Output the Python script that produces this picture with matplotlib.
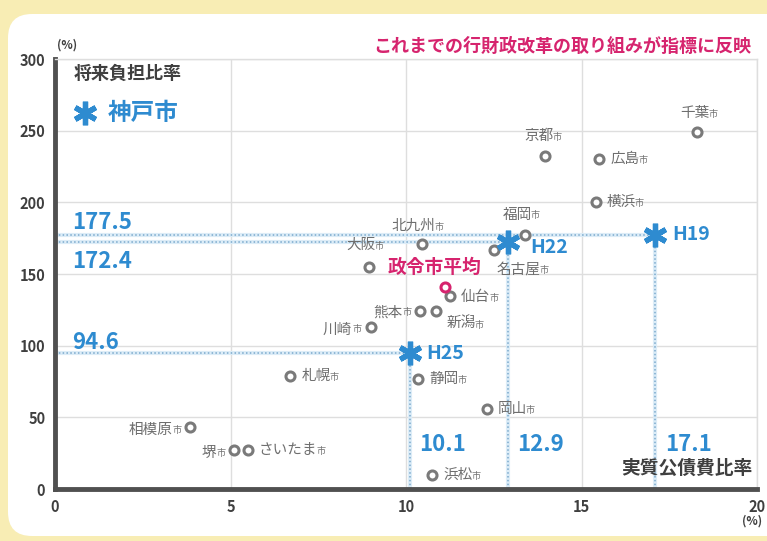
import matplotlib
matplotlib.use("Agg")
import matplotlib.pyplot as plt
from matplotlib.patches import FancyBboxPatch
from matplotlib.transforms import IdentityTransform

plt.rcParams['font.family'] = ['Noto Sans CJK JP', 'DejaVu Sans']

# 政令市 (実質公債費比率 %, 将来負担比率 %)
cities = ['千葉', '京都', '広島', '横浜', '福岡', '名古屋', '北九州', '大阪', '仙台', '熊本',
          '新潟', '川崎', '札幌', '静岡', '岡山', '相模原', '堺', 'さいたま', '浜松']
debt_ratio = [18.3, 13.95, 15.5, 15.4, 13.4, 12.5, 10.45, 8.95, 11.25, 10.4,
              10.85, 9.0, 6.7, 10.35, 12.3, 3.85, 5.1, 5.5, 10.75]
burden_ratio = [249, 232, 230, 200, 177, 167, 171, 155, 135, 124,
                124, 113, 79, 77, 56, 43, 27, 27, 10]

avg_x, avg_y = 11.1, 141

# 神戸市
kobe_years = ['H19', 'H22', 'H25']
kobe_debt = [17.1, 12.9, 10.1]
kobe_burden = [177.5, 172.4, 94.6]

blue = '#2e8bd0'
pink = '#d6246e'
gray = '#6e6e6e'
dark = '#3f3f3f'

fig = plt.figure(figsize=(7.67, 5.41), dpi=100, facecolor='#f8edb4')
panel = FancyBboxPatch((8, 5), 800, 522, boxstyle='round,pad=0,rounding_size=24',
                       transform=IdentityTransform(), facecolor='white', edgecolor='none',
                       zorder=-10)
fig.patches.append(panel)

ax = fig.add_axes([0.0717, 0.0961, 0.9153, 0.7948])
ax.set_facecolor('none')
ax.set_xlim(0, 20)
ax.set_ylim(0, 300)
ax.set_xticks([0, 5, 10, 15, 20])
ax.set_yticks([0, 50, 100, 150, 200, 250, 300])
ax.tick_params(length=0, labelsize=10.5, labelcolor=dark, pad=7)
for lab in ax.get_xticklabels() + ax.get_yticklabels():
    lab.set_fontweight('bold')
ax.grid(True, color='#dedede', lw=1)
ax.set_axisbelow(True)
for s in ['left', 'bottom']:
    ax.spines[s].set_color('#505050')
    ax.spines[s].set_linewidth(3.5)
for s in ['top', 'right']:
    ax.spines[s].set_color('#dedede')
    ax.spines[s].set_linewidth(1)

# dotted guide lines for Kobe
for kx, ky in zip(kobe_debt, kobe_burden):
    ax.plot([0, kx], [ky, ky], color='#dcecf7', lw=3, zorder=1, solid_capstyle='butt')
    ax.plot([0, kx], [ky, ky], color='#7aa9cc', lw=1.1, ls=(0, (1, 1.5)), zorder=2)
    ax.plot([kx, kx], [0, ky], color='#dcecf7', lw=3, zorder=1, solid_capstyle='butt')
    ax.plot([kx, kx], [0, ky], color='#7aa9cc', lw=1.1, ls=(0, (1, 1.5)), zorder=2)

# city markers
ax.plot(debt_ratio, burden_ratio, 'o', ms=6.5, mfc='white', mec='#7a7a7a', mew=2.2, zorder=4)
ax.plot([avg_x], [avg_y], 'o', ms=6.5, mfc='white', mec=pink, mew=2.2, zorder=5)

# label placement: (dx, dy) in points and side
place = {
    '千葉': (-2, 14, 't'), '京都': (-4, 15, 't'), '広島': (8, 0, 'r'), '横浜': (8, 0, 'r'),
    '福岡': (-6, 15, 't'), '名古屋': (18, -14, 't'), '北九州': (-6, 13, 't'),
    '大阪': (-6, 16, 't'), '仙台': (8, -1, 'r'), '熊本': (-6, 1, 'l'), '新潟': (18, -9, 't'),
    '川崎': (-7, 0, 'l'), '札幌': (8, 0, 'r'), '静岡': (8, 0, 'r'), '岡山': (8, 0, 'r'),
    '相模原': (-6, 0, 'l'), '堺': (-6, 0, 'l'), 'さいたま': (8, 0, 'r'), '浜松': (8, 0, 'r'),
}
fs = 10.5
for name, cx, cy in zip(cities, debt_ratio, burden_ratio):
    dx, dy, side = place[name]
    if side == 'l':
        shi = ax.annotate('市', (cx, cy), xytext=(dx, dy - 2), textcoords='offset points',
                          ha='right', va='center', fontsize=6.5, color=gray)
        ax.annotate(name, xy=(0, -0.25), xycoords=shi, xytext=(-0.3, 0),
                    textcoords='offset points', ha='right', va='bottom',
                    fontsize=fs, color=gray)
    else:
        ha = 'left' if side == 'r' else 'center'
        t = ax.annotate(name, (cx, cy), xytext=(dx, dy), textcoords='offset points',
                        ha=ha, va='center', fontsize=fs, color=gray)
        ax.annotate('市', xy=(1, 0.08), xycoords=t, xytext=(-0.8, 0),
                    textcoords='offset points', ha='left', va='bottom',
                    fontsize=6.5, color=gray)

ax.annotate('政令市平均', (avg_x, avg_y), xytext=(-7, 14), textcoords='offset points',
            ha='center', va='center', fontsize=13.5, fontweight='bold', color=pink, zorder=6)

# Kobe asterisks
ax.plot(kobe_debt, kobe_burden, ls='none', marker=(6, 2, 0), ms=17, mew=3.8,
        color=blue, zorder=7)
for lab, kx, ky, off in zip(kobe_years, kobe_debt, kobe_burden, [(12, 0), (16, -4), (12, 0)]):
    ax.annotate(lab, (kx, ky), xytext=off, textcoords='offset points', ha='left',
                va='center', fontsize=14, fontweight='bold', color=blue, zorder=8)

for ky, dy in zip(kobe_burden, [9, -14, 8]):
    ax.annotate(f'{ky:.1f}', (0.5, ky), xytext=(0, dy), textcoords='offset points',
                ha='left', va='center', fontsize=16, fontweight='bold', color=blue)
for kx in kobe_debt:
    ax.annotate(f'{kx:.1f}', (kx, 31), xytext=(7, 0), textcoords='offset points',
                ha='left', va='center', fontsize=16, fontweight='bold', color=blue)

# axis titles and notes
ax.text(0.026, 0.967, '将来負担比率', transform=ax.transAxes, ha='left', va='center',
        fontsize=13, fontweight='bold', color=dark)
ax.plot([0.043], [0.874], transform=ax.transAxes, ls='none', marker=(6, 2, 0), ms=17,
        mew=3.8, color=blue, clip_on=False)
ax.text(0.075, 0.874, '神戸市', transform=ax.transAxes, ha='left', va='center',
        fontsize=17, fontweight='bold', color=blue)
ax.text(0.994, 0.049, '実質公債費比率', transform=ax.transAxes, ha='right', va='center',
        fontsize=13.5, fontweight='bold', color=dark)

fig.text(0.980, 0.915, 'これまでの行財政改革の取り組みが指標に反映', ha='right', va='center',
         fontsize=13, fontweight='bold', color=pink)
fig.text(0.087, 0.917, '(%)', ha='center', va='center', fontsize=8.5, fontweight='bold', color=dark)
fig.text(0.980, 0.037, '(%)', ha='center', va='center', fontsize=8.5, fontweight='bold', color=dark)

fig.savefig('out.png', dpi=100, facecolor=fig.get_facecolor())
